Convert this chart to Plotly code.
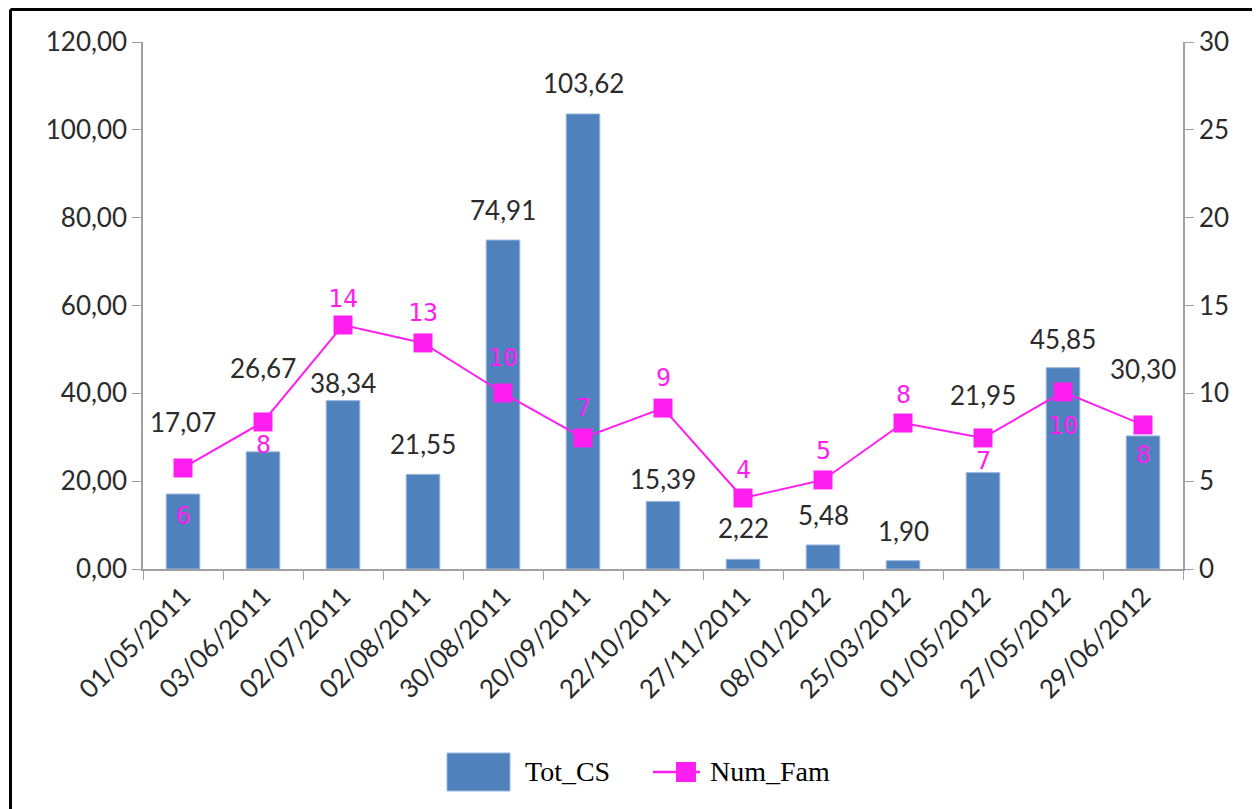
import plotly.graph_objects as go

dates = ["01/05/2011", "03/06/2011", "02/07/2011", "02/08/2011", "30/08/2011",
         "20/09/2011", "22/10/2011", "27/11/2011", "08/01/2012", "25/03/2012",
         "01/05/2012", "27/05/2012", "29/06/2012"]
tot_cs = [17.07, 26.67, 38.34, 21.55, 74.91, 103.62, 15.39, 2.22, 5.48, 1.90,
          21.95, 45.85, 30.30]
num_fam = [5.75, 8.37, 13.89, 12.87, 10.02, 7.46, 9.16, 4.04, 5.07, 8.31,
           7.46, 10.08, 8.20]

# label offsets (px) from the mark, as placed in the original
bar_label_shift = [72, 84, 18, 30, 30, 31, 22, 31, 30, 30, 78, 29, 67]
line_label_shift = [-48, -23, 27, 30, 35, 30, 31, 29, 29, 29, -23, -34, -30]

BLUE = "#4F81BD"
MAGENTA = "#FF1EF0"
TXT = "#2b2b2b"
AX = "#A0A0A0"
FONT = "Lato"

fig = go.Figure()

fig.add_trace(go.Bar(
    x=dates, y=tot_cs, name="Tot_CS",
    marker=dict(color=BLUE, line=dict(color="#9DB9DD", width=1)),
    hoverinfo="x+y",
))

fig.add_trace(go.Scatter(
    x=dates, y=num_fam, name="Num_Fam", yaxis="y2",
    mode="lines+markers",
    line=dict(color=MAGENTA, width=2),
    marker=dict(symbol="square", size=19, color=MAGENTA),
))

for d, v, s in zip(dates, tot_cs, bar_label_shift):
    fig.add_annotation(x=d, y=v, yref="y", text=f"{v:.2f}".replace(".", ","),
                       showarrow=False, yshift=s,
                       font=dict(family=FONT, size=26, color=TXT))

for d, v, s in zip(dates, num_fam, line_label_shift):
    fig.add_annotation(x=d, y=v, yref="y2", text=f"{v:.0f}",
                       showarrow=False, yshift=s,
                       font=dict(family="DejaVu Sans Mono", size=25, color=MAGENTA))

# outer frame (left and top edges only, as in the original)
fig.add_shape(type="line", xref="paper", yref="paper",
              x0=-0.1274, x1=-0.1274, y0=1.0617, y1=-0.47,
              line=dict(color="black", width=3))
fig.add_shape(type="line", xref="paper", yref="paper",
              x0=-0.1274, x1=1.072, y0=1.0617, y1=1.0617,
              line=dict(color="black", width=3))

# legend drawn by hand so the swatches keep the original's size
fig.add_shape(type="rect", xref="paper", yref="paper",
              x0=0.2923, x1=0.3529, y0=-0.3491, y1=-0.4213,
              fillcolor=BLUE, line=dict(color="#9DB9DD", width=1))
fig.add_annotation(xref="paper", yref="paper", x=0.3654, y=-0.385,
                   xanchor="left", yanchor="middle", showarrow=False,
                   text="Tot_CS", font=dict(family="Liberation Serif", size=28, color="black"))
fig.add_shape(type="line", xref="paper", yref="paper",
              x0=0.4904, x1=0.5356, y0=-0.385, y1=-0.385,
              line=dict(color=MAGENTA, width=2.5))
fig.add_shape(type="rect", xref="paper", yref="paper",
              x0=0.5125, x1=0.5317, y0=-0.3662, y1=-0.4042,
              fillcolor=MAGENTA, line=dict(width=0))
fig.add_annotation(xref="paper", yref="paper", x=0.5433, y=-0.385,
                   xanchor="left", yanchor="middle", showarrow=False,
                   text="Num_Fam", font=dict(family="Liberation Serif", size=28, color="black"))

# the page adds an 8px body margin, so the figure is 8px smaller on each side
fig.update_layout(
    width=1252, height=801,
    margin=dict(l=135, r=77, t=34, b=240),
    paper_bgcolor="white", plot_bgcolor="white",
    separators=",.",
    bargap=0.58,
    showlegend=False,
    xaxis=dict(
        type="category", tickangle=-45, tickson="boundaries",
        ticks="outside", ticklen=9, tickcolor=AX,
        showline=True, linecolor=AX, linewidth=1.5,
        tickfont=dict(family=FONT, size=26, color=TXT),
        range=[-0.5, 12.5], showgrid=False,
    ),
    yaxis=dict(
        range=[0, 120], dtick=20, tickformat=".2f",
        ticks="outside", ticklen=9, tickcolor=AX,
        showline=True, linecolor=AX, linewidth=1.5,
        showgrid=False, zeroline=False,
        tickfont=dict(family=FONT, size=26, color=TXT),
    ),
    yaxis2=dict(
        range=[0, 30], dtick=5, overlaying="y", side="right",
        ticks="outside", ticklen=9, tickcolor=AX,
        showline=True, linecolor=AX, linewidth=1.5,
        showgrid=False, zeroline=False,
        tickfont=dict(family=FONT, size=26, color=TXT),
    ),
)

fig.write_html("out.html")
